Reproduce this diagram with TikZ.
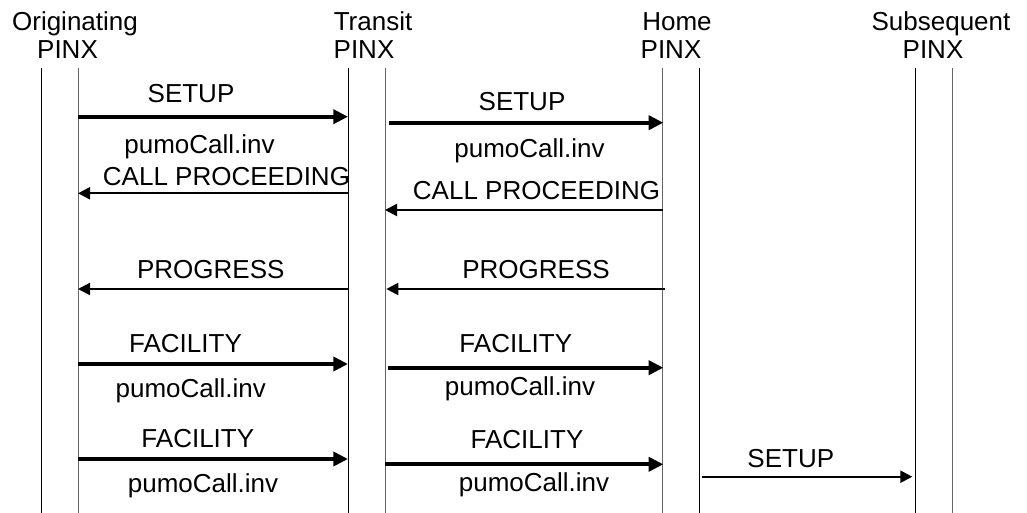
\documentclass[tikz,border=0pt]{standalone}
\usepackage{fontspec}
\setmainfont{Liberation Sans}
\usetikzlibrary{arrows.meta}

\begin{document}
\begin{tikzpicture}[x=0.75pt,y=-0.75pt,
                lbl/.style={anchor=base,inner sep=0pt,font=\fontsize{19.5}{23}\selectfont},
                life/.style={line width=0.75pt},
                lifeg/.style={line width=0.75pt,black!60},
                bigmsg/.style={line width=3pt,-{Triangle[length=11pt,width=10.5pt]}},
                msg/.style={line width=1.5pt,-{Triangle[length=9pt,width=9pt]}}]
                \useasboundingbox (0,0) rectangle (1027,513);

                \node[lbl] (orig) at (75,30.5) {Originating};
                \node[lbl] (origpinx) at (67.5,58.3) {PINX};
                \node[lbl] (trans) at (373,30.5) {Transit};
                \node[lbl] (transpinx) at (364,58.3) {PINX};
                \node[lbl] (home) at (677,30.5) {Home};
                \node[lbl] (homepinx) at (671,58.3) {PINX};
                \node[lbl] (subs) at (941,30.5) {Subsequent};
                \node[lbl] (subspinx) at (933,58.3) {PINX};

                \coordinate (o1) at (41,68);  \coordinate (o2) at (78,68);
                \coordinate (t1) at (348,68); \coordinate (t2) at (385,68);
                \coordinate (h1) at (662,68); \coordinate (h2) at (699,68);
                \coordinate (s1) at (915,68); \coordinate (s2) at (952,68);

                \draw[life] (o1) -- (o1 |- 0,513);
                \draw[lifeg] (o2) -- (o2 |- 0,513);
                \draw[life] (t1) -- (t1 |- 0,513);
                \draw[lifeg] (t2) -- (t2 |- 0,513);
                \draw[lifeg] (h1) -- (h1 |- 0,513);
                \draw[life] (h2) -- (h2 |- 0,513);
                \draw[life] (s1) -- (s1 |- 0,513);
                \draw[lifeg] (s2) -- (s2 |- 0,513);

                \draw[bigmsg] (o2 |- 0,116.7) -- (t1 |- 0,116.7);
                \node[lbl] (setupa) at (191,103) {SETUP};
                \node[lbl] (pumoa) at (199.5,154) {pumoCall.inv};
                \draw[bigmsg] ([xshift=3]t2 |- 0,122.7) -- ([xshift=1]h1 |- 0,122.7);
                \node[lbl] (setupb) at (522,110.5) {SETUP};
                \node[lbl] (pumob) at (529.5,158) {pumoCall.inv};

                \draw[msg] (t1 |- 0,193.3) -- (o2 |- 0,193.3);
                \node[lbl] (proca) at (226.5,185.5) {CALL PROCEEDING};
                \draw[msg] ([xshift=1]h1 |- 0,210) -- (t2 |- 0,210);
                \node[lbl] (procb) at (536.5,199.3) {CALL PROCEEDING};

                \draw[msg] (t1 |- 0,289) -- (o2 |- 0,289);
                \node[lbl] (proga) at (210.8,278) {PROGRESS};
                \draw[msg] ([xshift=2]h1 |- 0,289) -- ([xshift=1]t2 |- 0,289);
                \node[lbl] (progb) at (536,278) {PROGRESS};

                \draw[bigmsg] (o2 |- 0,364) -- (t1 |- 0,364);
                \node[lbl] (faca) at (185.5,352) {FACILITY};
                \node[lbl] (pumoc) at (190.8,397) {pumoCall.inv};
                \draw[bigmsg] ([xshift=2]t2 |- 0,367.7) -- ([xshift=1]h1 |- 0,367.7);
                \node[lbl] (facb) at (515.8,352) {FACILITY};
                \node[lbl] (pumod) at (520,395) {pumoCall.inv};

                \draw[bigmsg] (o2 |- 0,459) -- (t1 |- 0,459);
                \node[lbl] (facc) at (197.8,447) {FACILITY};
                \node[lbl] (pumoe) at (203,492) {pumoCall.inv};
                \draw[bigmsg] (t2 |- 0,464.3) -- ([xshift=1]h1 |- 0,464.3);
                \node[lbl] (facd) at (527,448) {FACILITY};
                \node[lbl] (pumof) at (534,491) {pumoCall.inv};

                \draw[msg] ([xshift=2]h2 |- 0,476.7) -- ([xshift=-2]s1 |- 0,476.7);
                \node[lbl] (setupc) at (790.8,467) {SETUP};
            \end{tikzpicture}
\end{document}
